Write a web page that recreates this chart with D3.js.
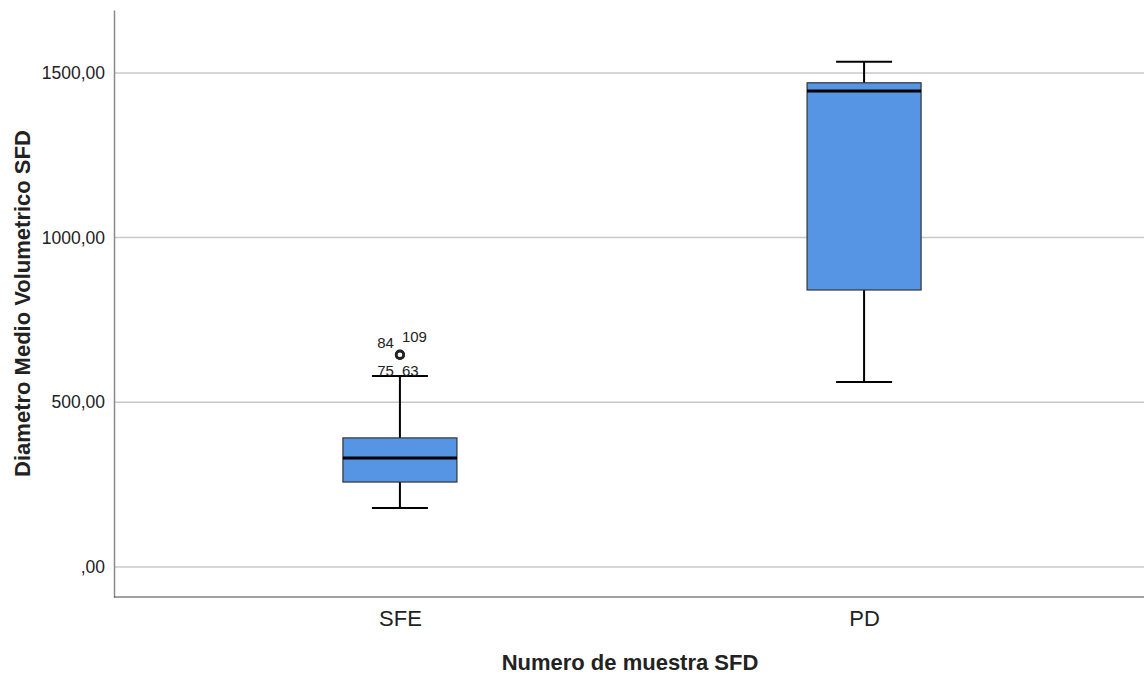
<!DOCTYPE html>
<html>
<head>
<meta charset="utf-8">
<script src="https://cdn.jsdelivr.net/npm/d3@7"></script>
<style>
body { margin: 0; background: #fff; }
text { font-family: "Liberation Sans", Arial, sans-serif; }
</style>
</head>
<body>
<div id="vis"></div>
<script>
// data
let groups = ["SFE", "PD"]
let q1 = [258, 841]
let median = [331, 1445]
let q3 = [392, 1470]
let whiskLow = [179, 562]
let whiskHigh = [580, 1534]
let outliers = [
    {group: "SFE", value: 644, label: "84", side: "left", dy: -7},
    {group: "SFE", value: 645, label: "109", side: "right", dy: -13},
    {group: "SFE", value: 580, label: "75", side: "left", dy: 0},
    {group: "SFE", value: 580, label: "63", side: "right", dy: 0}
]
let yTicks = [0, 500, 1000, 1500]

let W = 1144, H = 675
let m = {left: 114, right: -6, top: 10, bottom: 78}

let svg = d3.select("#vis").append("svg")
    .attr("width", W).attr("height", H)

let x = d3.scalePoint()
    .domain(groups)
    .range([m.left, W - m.right])
    .padding(0.616)

let y = d3.scaleLinear()
    .domain([-91, 1691])
    .range([H - m.bottom, m.top])

let fmt = d => d == 0 ? ",00" : d3.format(".2f")(d).replace(".", ",")

// grid
svg.append("g")
    .selectAll("line")
    .data(yTicks)
    .join("line")
    .attr("x1", m.left).attr("x2", W)
    .attr("y1", d => y(d)).attr("y2", d => y(d))
    .attr("stroke", "#c8c8c8").attr("stroke-width", 1.5)

// y axis
let yAxis = svg.append("g")
    .attr("transform", `translate(${m.left},0)`)
    .call(d3.axisLeft(y).tickValues(yTicks).tickFormat(fmt).tickSize(0).tickPadding(9))
yAxis.select(".domain").attr("stroke", "#8a8a8a").attr("stroke-width", 1.5)
yAxis.selectAll("text").attr("font-size", 17.5).attr("fill", "#222")

// x axis
let xAxis = svg.append("g")
    .attr("transform", `translate(0,${H - m.bottom})`)
    .call(d3.axisBottom(x).tickSize(0).tickPadding(13))
xAxis.select(".domain").attr("stroke", "#444").attr("stroke-width", 1.2)
    .attr("d", `M${m.left},0H${W}`)
xAxis.selectAll("text").attr("font-size", 22).attr("fill", "#222")

let boxW = 114, capW = 56

let box = svg.append("g")
    .selectAll("g")
    .data(groups)
    .join("g")
    .attr("transform", d => `translate(${x(d)},0)`)

box.append("line")
    .attr("y1", (d, i) => y(whiskLow[i])).attr("y2", (d, i) => y(whiskHigh[i]))
    .attr("stroke", "#000").attr("stroke-width", 2)

box.each(function(d, i) {
    let g = d3.select(this)
    ;[whiskLow[i], whiskHigh[i]].forEach(v => {
        g.append("line")
            .attr("x1", -capW / 2).attr("x2", capW / 2)
            .attr("y1", y(v)).attr("y2", y(v))
            .attr("stroke", "#000").attr("stroke-width", 2)
    })
})

box.append("rect")
    .attr("x", -boxW / 2).attr("width", boxW)
    .attr("y", (d, i) => y(q3[i]))
    .attr("height", (d, i) => y(q1[i]) - y(q3[i]))
    .attr("fill", "#5694e4")
    .attr("stroke", "#333").attr("stroke-width", 1.2)

box.append("line")
    .attr("x1", -boxW / 2).attr("x2", boxW / 2)
    .attr("y1", (d, i) => y(median[i])).attr("y2", (d, i) => y(median[i]))
    .attr("stroke", "#000").attr("stroke-width", 3)

// outliers
let out = outliers.filter(o => o.value > 600)
svg.append("g")
    .selectAll("circle")
    .data(out)
    .join("circle")
    .attr("cx", d => x(d.group)).attr("cy", d => y(d.value))
    .attr("r", 3.8)
    .attr("fill", "none").attr("stroke", "#222").attr("stroke-width", 2.6)

svg.append("g")
    .selectAll("text")
    .data(outliers)
    .join("text")
    .attr("x", d => x(d.group) + (d.side == "left" ? -6 : 2))
    .attr("y", d => y(d.value) + d.dy)
    .attr("text-anchor", d => d.side == "left" ? "end" : "start")
    .attr("font-size", 15).attr("fill", "#222")
    .text(d => d.label)

// axis titles
svg.append("text")
    .attr("x", 630).attr("y", 670)
    .attr("text-anchor", "middle")
    .attr("font-size", 22).attr("font-weight", "bold").attr("fill", "#222")
    .text("Numero de muestra SFD")

svg.append("text")
    .attr("transform", `translate(30,${(m.top + H - m.bottom) / 2}) rotate(-90)`)
    .attr("text-anchor", "middle")
    .attr("font-size", 22).attr("font-weight", "bold").attr("fill", "#222")
    .text("Diametro Medio Volumetrico SFD")
</script>
</body>
</html>
